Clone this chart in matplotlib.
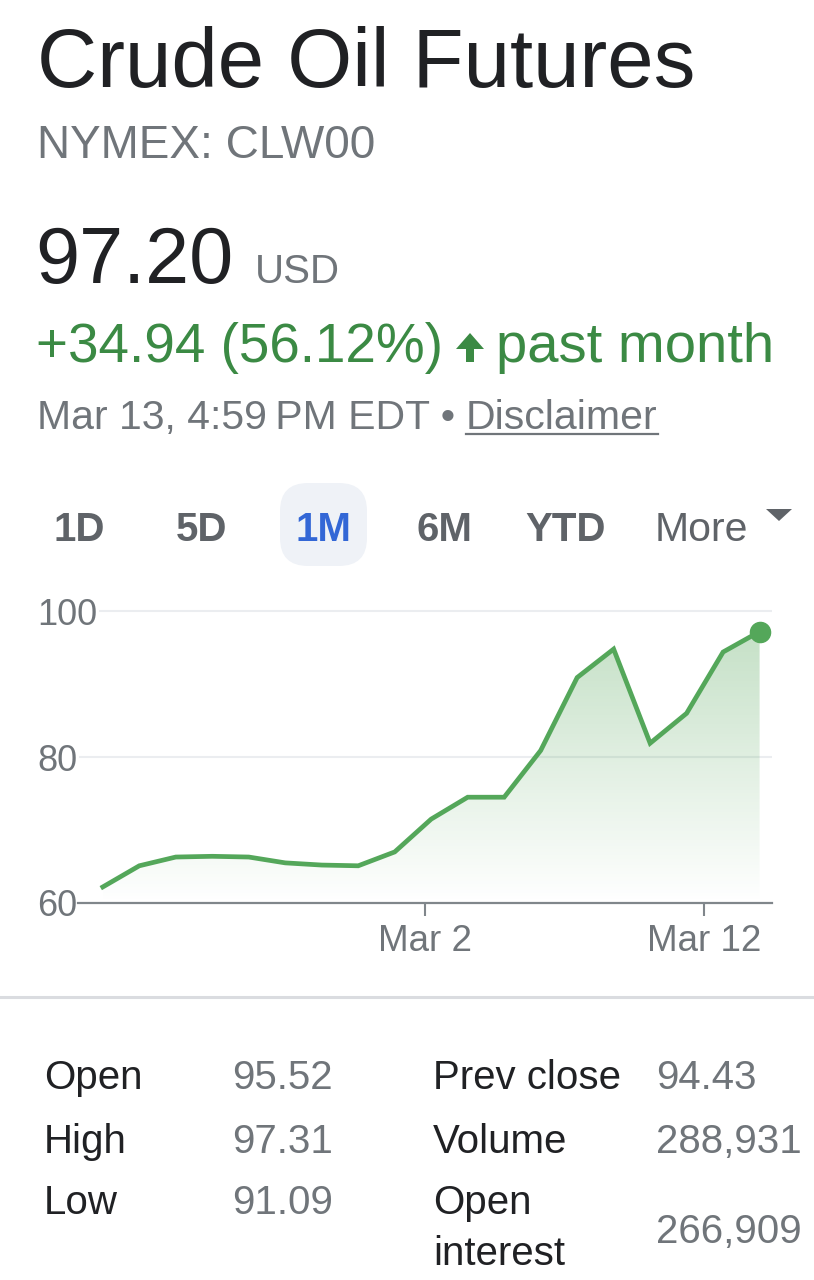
import numpy as np
import matplotlib
matplotlib.use("Agg")
import matplotlib.pyplot as plt
from matplotlib.patches import FancyBboxPatch, Polygon
from matplotlib.colors import LinearSegmentedColormap

# ---------------------------------------------------------------- data
PRICES = [62.2, 65.1, 66.3, 66.4, 66.3, 65.5, 65.2, 65.1, 67.0, 71.5,
          74.5, 74.5, 80.9, 90.9, 94.8, 81.9, 86.0, 94.4, 97.2]
XTICK_POS = [8.83, 16.49]
XTICK_LABELS = ["Mar 2", "Mar 12"]
YTICKS = [60, 80, 100]
RANGES = ["1D", "5D", "1M", "6M", "YTD"]
RANGE_ACTIVE = "1M"
STAT_LABELS_L = ["Open", "High", "Low"]
STAT_VALUES_L = ["95.52", "97.31", "91.09"]
STAT_LABELS_R = ["Prev close", "Volume", "Open\ninterest"]
STAT_VALUES_R = ["94.43", "288,931", "266,909"]

# ---------------------------------------------------------------- style
plt.rcParams["font.family"] = ["Liberation Sans", "DejaVu Sans"]
DARK = "#202124"
GREY = "#70757a"
BTN = "#5f6368"
BLUE = "#3367d6"
GREEN_TXT = "#3b8a44"
LINE = "#54a75a"
W, H = 814, 1280

fig = plt.figure(figsize=(W / 100, H / 100), dpi=100)
fig.patch.set_facecolor("white")

# overlay in pixel coordinates for the header / table
ov = fig.add_axes([0, 0, 1, 1])
ov.set_xlim(0, W); ov.set_ylim(H, 0); ov.axis("off")

ov.text(37, 87, "Crude Oil Futures", fontsize=60, color=DARK, va="baseline")
ov.text(37, 158, "NYMEX: CLW00", fontsize=33, color=GREY, va="baseline")
ov.text(35, 283, "97.20", fontsize=57, color=DARK, va="baseline")
ov.text(255, 283, "USD", fontsize=29, color=GREY, va="baseline")
ov.text(36, 362, "+34.94 (56.12%)", fontsize=39.5, color=GREEN_TXT, va="baseline")
ov.add_patch(Polygon([[456, 349], [470, 333], [484, 349], [474, 349],
                      [474, 362], [466, 362], [466, 349]],
                     closed=True, color=GREEN_TXT, lw=0))
ov.text(496, 362, "past month", fontsize=40.5, color=GREEN_TXT, va="baseline")
ov.text(37, 429, "Mar 13, 4:59\u2009PM EDT \u2022 ", fontsize=29.5, color=GREY,
        va="baseline")
disc = ov.text(466, 429, "Disclaimer", fontsize=29.5, color=GREY, va="baseline")

# range selector
ov.add_patch(FancyBboxPatch((290, 493), 67, 63, boxstyle="round,pad=10,rounding_size=28",
                            fc="#eff2f7", ec="none"))
btn_x = [79, 202, 323, 444, 566]
for lab, x in zip(RANGES, btn_x):
    ov.text(x, 541, lab, fontsize=29, color=BLUE if lab == RANGE_ACTIVE else BTN,
            weight="bold", ha="center", va="baseline")
ov.text(701, 541, "More", fontsize=29.5, color=BTN, ha="center", va="baseline")
ov.add_patch(Polygon([[766, 509], [792, 509], [779, 521]], closed=True, color=BTN, lw=0))

# divider
ov.plot([0, W], [997, 997], color="#dadce0", lw=2.2)

# stats table
FS = 29
row_base = [1089, 1153, 1214]
for lab, val, y in zip(STAT_LABELS_L, STAT_VALUES_L, row_base):
    ov.text(44, y, lab, fontsize=FS, color=DARK, va="baseline")
    ov.text(232, y, val, fontsize=FS, color=GREY, va="baseline")
for lab, val, y in zip(STAT_LABELS_R, STAT_VALUES_R, row_base):
    if "\n" in lab:
        top, bot = lab.split("\n")
        ov.text(433, y, top, fontsize=FS, color=DARK, va="baseline")
        ov.text(433, y + 51, bot, fontsize=FS, color=DARK, va="baseline")
        ov.text(656, y + 29, val, fontsize=FS, color=GREY, va="baseline")
    else:
        ov.text(433, y, lab, fontsize=FS, color=DARK, va="baseline")
        ov.text(656, y, val, fontsize=FS, color=GREY, va="baseline")

# ---------------------------------------------------------------- chart
left, right, top, bottom = 78, 772, 590, 903
ax = fig.add_axes([left / W, 1 - bottom / H, (right - left) / W, (bottom - top) / H])
ax.patch.set_alpha(0)
x = np.arange(len(PRICES))
y = np.array(PRICES)
ax.set_xlim(-0.68, 18.34)
ax.set_ylim(60, 102.9)

# gradient fill under the line
cmap = LinearSegmentedColormap.from_list(
    "g", [(0.33, 0.65, 0.35, 0.0), (0.33, 0.65, 0.35, 0.34)])
grad = np.linspace(0, 1, 256).reshape(-1, 1)
poly = ax.fill_between(x, y, 60, color="none", lw=0)
img = ax.imshow(grad, cmap=cmap, origin="lower", aspect="auto",
                extent=[x[0], x[-1], 60, y.max()], zorder=1)
img.set_clip_path(poly.get_paths()[0], transform=ax.transData)

ax.plot(x, y, color=LINE, lw=3.4, solid_joinstyle="miter", zorder=3)
ax.plot(x[-1], y[-1], "o", color=LINE, ms=14.5, zorder=4)

ax.axhline(80, xmin=0.003, color="#ebedf0", lw=1.5, zorder=0)
ax.axhline(100, xmin=0.032, color="#ebedf0", lw=1.5, zorder=0)

for s in ["top", "right", "left"]:
    ax.spines[s].set_visible(False)
ax.spines["bottom"].set_color("#80868b")
ax.spines["bottom"].set_linewidth(1.6)

ax.set_xticks(XTICK_POS)
ax.set_xticklabels(XTICK_LABELS)
ax.tick_params(axis="x", length=9, width=1.5, color="#80868b", pad=6,
               labelsize=26.5, labelcolor=GREY)
ax.set_yticks(YTICKS)
ax.set_yticklabels([str(v) for v in YTICKS])
ax.tick_params(axis="y", length=0, pad=29.5, labelsize=26, labelcolor=GREY)
for lbl in ax.get_yticklabels():
    lbl.set_ha("left")

# underline for the disclaimer link
fig.canvas.draw()
bb = disc.get_window_extent()
inv = ov.transData.inverted()
(x0, _), (x1, _) = inv.transform([[bb.x0, bb.y0], [bb.x1, bb.y0]])
ov.plot([x0, x1], [434, 434], color=GREY, lw=1.6)

fig.savefig("out.png", dpi=100)
